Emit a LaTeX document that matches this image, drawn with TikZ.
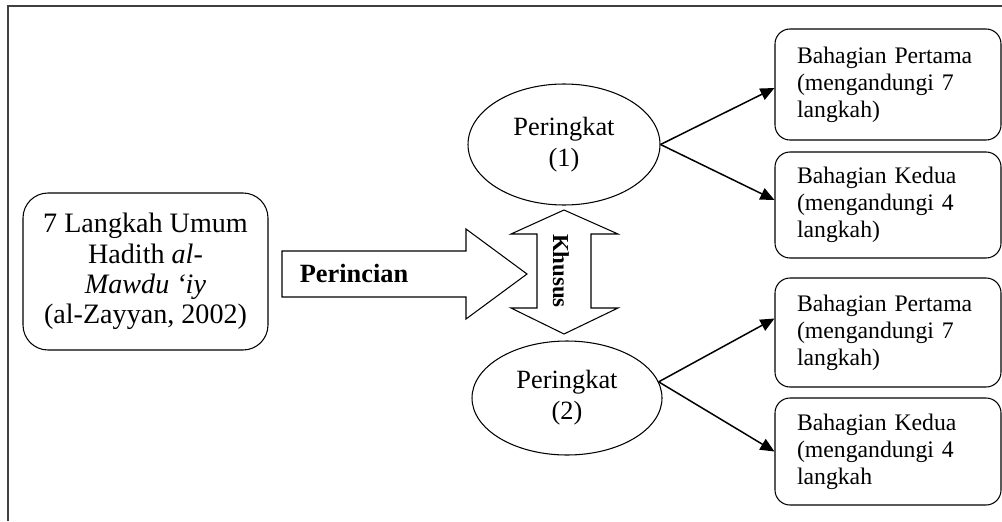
\documentclass[tikz,border=0pt]{standalone}
\usepackage{fontspec}
\setmainfont{Liberation Serif}
\usepackage{tikz}
\usetikzlibrary{shapes.geometric,arrows.meta}

\begin{document}
\begin{tikzpicture}[
	rbox/.style={draw, rounded corners=0.3cm, line width=0.6pt, minimum height=2.16cm, text width=3.64cm, inner xsep=0.44cm, align=left, font=\fontsize{13.5}{15.4}\selectfont},
	peringkat/.style={draw, ellipse, line width=0.6pt, inner sep=0pt, align=center, font=\fontsize{15}{17.6}\selectfont},
	tip/.style={-{Triangle[length=8pt,width=7pt]}, line width=0.85pt},
	bigarrow/.style={draw, line width=0.6pt}]
	\useasboundingbox (0,0) rectangle (20.04,-10.42);
	\draw[line width=1pt, black!75] (0.16,-10.42) -- (0.16,-0.12) -- (20.04,-0.12);

	\node[draw, rounded corners=0.5cm, line width=0.6pt, minimum width=4.9cm, minimum height=3.14cm, align=center, font=\fontsize{16}{17.2}\selectfont] (umum) at (2.91,-5.43) {7 Langkah Umum\\Hadith \textit{al-}\\\textit{Mawdu ‘iy}\\(al-Zayyan, 2002)};

	\draw[bigarrow] (5.64,-5.02) -- (9.32,-5.02) -- (9.32,-4.58) -- (10.54,-5.48) -- (9.32,-6.38) -- (9.32,-5.94) -- (5.64,-5.94) -- cycle;
	\node[font=\bfseries\fontsize{15}{18}\selectfont] (perincian) at (7.08,-5.46) {Perincian};

	\draw[bigarrow] (11.28,-4.20) -- (12.36,-4.68) -- (11.82,-4.68) -- (11.82,-6.16) -- (12.36,-6.16) -- (11.28,-6.68) -- (10.22,-6.16) -- (10.74,-6.16) -- (10.74,-4.68) -- (10.22,-4.68) -- cycle;
	\node[rotate=-90, font=\bfseries\fontsize{13}{15}\selectfont] (khusus) at (11.22,-5.42) {Khusus};

	\node[peringkat, minimum width=3.84cm, minimum height=2.42cm] (p1) at (11.28,-2.89) {Peringkat\\(1)};
	\node[peringkat, minimum width=3.8cm, minimum height=2.28cm] (p2) at (11.34,-7.96) {Peringkat\\(2)};

	\node[rbox, minimum height=2.22cm] (b1) at (17.76,-1.69) {Bahagian Pertama\\(mengandungi 7\\langkah)};
	\node[rbox, minimum height=2.12cm] (b2) at (17.76,-4.10) {Bahagian Kedua\\(mengandungi 4\\langkah)};
	\node[rbox, minimum height=2.18cm] (b3) at (17.76,-6.65) {Bahagian Pertama\\(mengandungi 7\\langkah)};
	\node[rbox, minimum height=2.14cm] (b4) at (17.76,-9.03) {Bahagian Kedua\\(mengandungi 4\\langkah};

	\draw[tip] (p1.east) -- ([yshift=-0.07cm]b1.west);
	\draw[tip] (p1.east) -- ([yshift=0.1cm]b2.west);
	\draw[tip] (p2.10) -- ([yshift=0.28cm]b3.west);
	\draw[tip] (p2.10) -- (b4.west);
\end{tikzpicture}
\end{document}
